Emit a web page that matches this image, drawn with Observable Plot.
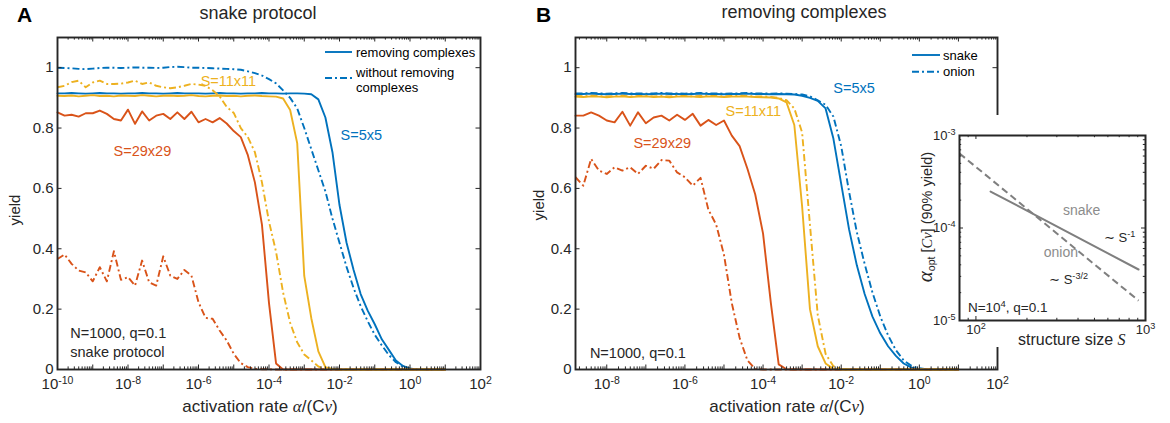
<!DOCTYPE html>
<html>
<head>
<meta charset="utf-8">
<script src="https://cdn.jsdelivr.net/npm/d3@7"></script>
<script src="https://cdn.jsdelivr.net/npm/@observablehq/plot@0.6"></script>
<style>
html,body{margin:0;padding:0;background:#fff;}
#root{position:relative;width:1170px;height:423px;overflow:hidden;background:#fff;}
#root > svg{position:absolute;top:0;}
</style>
</head>
<body>
<div id="root"></div>
<script>
// ---------- data ----------
// exponent of the activation rate alpha/(C nu) sampled in the simulations
const logAlpha = [-10,-9.8,-9.6,-9.4,-9.2,-9,-8.8,-8.6,-8.4,-8.2,-8,-7.8,-7.6,-7.4,-7.2,-7,-6.8,-6.6,-6.4,-6.2,-6,-5.8,-5.6,-5.4,-5.2,-5,-4.8,-4.6,-4.4,-4.2,-4,-3.8,-3.6,-3.4,-3.2,-3,-2.8,-2.6,-2.4,-2.2,-2,-1.8,-1.6,-1.4,-1.2,-1,-0.8,-0.6,-0.4,-0.2,0,0.2,0.4,0.6,0.8,1];
// panel B starts at 10^-8.8
const logAlphaB = [-8.8,-8.6,-8.4,-8.2,-8,-7.8,-7.6,-7.4,-7.2,-7,-6.8,-6.6,-6.4,-6.2,-6,-5.8,-5.6,-5.4,-5.2,-5,-4.8,-4.6,-4.4,-4.2,-4,-3.8,-3.6,-3.4,-3.2,-3,-2.8,-2.6,-2.4,-2.2,-2,-1.8,-1.6,-1.4,-1.2,-1,-0.8,-0.6,-0.4,-0.2,0,0.2,0.4,0.6,0.8,1];

// Panel A: snake protocol, yield (removing complexes / without removing complexes)
const aS5Removing = [0.915,0.915,0.916,0.915,0.914,0.915,0.916,0.915,0.915,0.914,0.915,0.915,0.916,0.915,0.915,0.914,0.915,0.916,0.915,0.915,0.915,0.914,0.915,0.916,0.915,0.915,0.914,0.915,0.915,0.916,0.915,0.915,0.914,0.915,0.915,0.914,0.912,0.895,0.835,0.72,0.545,0.42,0.33,0.25,0.195,0.15,0.10,0.065,0.03,0.012,0.003,0.001,0,0,0,0];
const aS5Without = [1.0,0.999,0.998,0.996,0.995,0.997,0.999,1.0,1.0,0.999,1.0,1.001,1.0,1.0,0.999,1.0,1.002,1.003,1.002,1.0,1.0,0.999,0.998,0.997,0.996,0.995,0.993,0.988,0.982,0.974,0.962,0.948,0.925,0.90,0.865,0.80,0.73,0.66,0.59,0.50,0.42,0.34,0.27,0.21,0.16,0.115,0.08,0.048,0.024,0.01,0.003,0.001,0,0,0,0];
const aS11Removing = [0.907,0.906,0.908,0.905,0.907,0.909,0.906,0.907,0.905,0.908,0.907,0.906,0.909,0.907,0.905,0.907,0.908,0.906,0.907,0.909,0.906,0.905,0.907,0.908,0.906,0.907,0.905,0.907,0.908,0.906,0.905,0.904,0.898,0.86,0.75,0.31,0.17,0.06,0.008,0.002,0,0,0,0,0,0,0,0,0,0,0,0,0,0,0,0];
const aS11Without = [0.935,0.940,0.952,0.957,0.935,0.951,0.957,0.946,0.946,0.947,0.951,0.957,0.946,0.951,0.940,0.935,0.932,0.935,0.940,0.946,0.944,0.940,0.925,0.905,0.87,0.85,0.80,0.77,0.72,0.62,0.49,0.39,0.255,0.155,0.09,0.05,0.03,0.01,0.003,0.001,0,0,0,0,0,0,0,0,0,0,0,0,0,0,0,0];
const aS29Removing = [0.852,0.841,0.844,0.838,0.849,0.849,0.858,0.847,0.830,0.825,0.861,0.814,0.855,0.825,0.841,0.847,0.830,0.852,0.830,0.854,0.819,0.830,0.819,0.833,0.815,0.79,0.77,0.71,0.62,0.48,0.22,0.02,0,0,0,0,0,0,0,0,0,0,0,0,0,0,0,0,0,0,0,0,0,0,0,0];
const aS29Without = [0.366,0.381,0.35,0.328,0.322,0.292,0.339,0.292,0.392,0.297,0.306,0.278,0.361,0.289,0.278,0.375,0.311,0.30,0.33,0.311,0.223,0.171,0.168,0.129,0.096,0.052,0.021,0.008,0.002,0.001,0.001,0,0,0,0,0,0,0,0,0,0,0,0,0,0,0,0,0,0,0,0,0,0,0,0,0];

// Panel B: removing complexes, yield (snake / onion protocol)
const bS5Snake = [0.913,0.913,0.914,0.913,0.912,0.913,0.914,0.913,0.913,0.912,0.913,0.914,0.913,0.913,0.912,0.913,0.914,0.913,0.913,0.912,0.913,0.913,0.914,0.913,0.913,0.912,0.913,0.912,0.911,0.907,0.90,0.89,0.865,0.765,0.615,0.465,0.345,0.25,0.175,0.12,0.077,0.045,0.02,0.006,0.001,0,0,0,0,0];
const bS5Onion = [0.915,0.915,0.916,0.915,0.914,0.915,0.916,0.915,0.915,0.914,0.915,0.916,0.915,0.915,0.914,0.915,0.916,0.915,0.915,0.914,0.915,0.915,0.916,0.915,0.915,0.914,0.915,0.914,0.913,0.911,0.905,0.892,0.877,0.838,0.74,0.59,0.455,0.35,0.255,0.176,0.113,0.064,0.03,0.012,0.004,0.001,0,0,0,0];
const bS11Snake = [0.904,0.903,0.905,0.904,0.902,0.904,0.905,0.903,0.904,0.905,0.903,0.904,0.902,0.904,0.905,0.904,0.903,0.905,0.904,0.903,0.904,0.905,0.904,0.903,0.902,0.901,0.898,0.885,0.81,0.54,0.20,0.077,0.02,0.002,0,0,0,0,0,0,0,0,0,0,0,0,0,0,0,0];
const bS11Onion = [0.906,0.905,0.907,0.906,0.905,0.906,0.907,0.905,0.906,0.907,0.905,0.906,0.905,0.907,0.906,0.905,0.906,0.907,0.906,0.905,0.906,0.907,0.906,0.905,0.905,0.903,0.900,0.892,0.865,0.785,0.48,0.18,0.052,0.011,0.002,0,0,0,0,0,0,0,0,0,0,0,0,0,0,0];
const bS29Snake = [0.841,0.841,0.852,0.841,0.825,0.819,0.854,0.808,0.852,0.816,0.835,0.841,0.825,0.844,0.827,0.847,0.808,0.827,0.81,0.825,0.775,0.74,0.665,0.58,0.45,0.22,0.017,0.001,0,0,0,0,0,0,0,0,0,0,0,0,0,0,0,0,0,0,0,0,0,0];
const bS29Onion = [0.637,0.609,0.698,0.659,0.648,0.67,0.659,0.67,0.648,0.675,0.665,0.694,0.692,0.653,0.637,0.609,0.635,0.53,0.48,0.38,0.22,0.105,0.03,0.002,0,0,0,0,0,0,0,0,0,0,0,0,0,0,0,0,0,0,0,0,0,0,0,0,0,0];

// Inset: optimal activation rate (90% yield) vs structure size S, N=10^4
const insetSnakeS = [122, 910];
const insetSnakeAlpha = [2.48e-4, 3.56e-5];
const insetOnionS = [80, 910];
const insetOnionAlpha = [6.4e-4, 1.64e-5];

// tick values
const yTicks = [0, 0.2, 0.4, 0.6, 0.8, 1];
const xLabelTicksA = [1e-10, 1e-8, 1e-6, 1e-4, 1e-2, 1, 1e2];
const xLabelTicksB = [1e-8, 1e-6, 1e-4, 1e-2, 1, 1e2];
const insetXTicks = [1e2, 1e3];
const insetYTicks = [1e-5, 1e-4, 1e-3];

// ---------- style ----------
const C5 = "#0072BD", C11 = "#EDB120", C29 = "#D95319";
const AX = "#262626";
const FONT = "'Liberation Sans', Arial, Helvetica, sans-serif";
const SERIF = "'Liberation Serif','DejaVu Serif',serif";
const DASHDOT = "7,3,2,3";

function decadeTicks(eMin, eMax) { const r = []; for (let e = eMin; e <= eMax; e++) r.push(Math.pow(10, e)); return r; }
function subTicks(eMin, eMax, lo, hi) {
  const r = [];
  for (let e = eMin; e <= eMax; e++) for (let k = 2; k <= 9; k++) { const v = k * Math.pow(10, e); if (v > lo && v < hi) r.push(v); }
  return r;
}

function lineMark(xs, ys, color, dashed, width = 1.9) {
  const rows = xs.map((x, i) => ({x, y: ys[i]}));
  const o = {x: "x", y: "y", stroke: color, strokeWidth: width, strokeLinejoin: "round"};
  if (dashed) { o.strokeDasharray = dashed; o.strokeLinecap = "butt"; }
  return Plot.line(rows, o);
}

function boxTicks(xMajor, xMinor, yMajor, yMinor, innerW, innerH, major, minor) {
  const s = {stroke: AX, strokeWidth: 1};
  return [
    Plot.tickX(xMajor, {x: d => d, insetTop: innerH - major, ...s}),
    Plot.tickX(xMajor, {x: d => d, insetBottom: innerH - major, ...s}),
    Plot.tickX(xMinor, {x: d => d, insetTop: innerH - minor, ...s}),
    Plot.tickX(xMinor, {x: d => d, insetBottom: innerH - minor, ...s}),
    Plot.tickY(yMajor, {y: d => d, insetRight: innerW - major, ...s}),
    Plot.tickY(yMajor, {y: d => d, insetLeft: innerW - major, ...s}),
    Plot.tickY(yMinor, {y: d => d, insetRight: innerW - minor, ...s}),
    Plot.tickY(yMinor, {y: d => d, insetLeft: innerW - minor, ...s})
  ];
}

const supFmt = d => `10^{${Math.round(Math.log10(d))}}`;

function panel({xs, series, xDomain, labelTicks, eMin, eMax, width, ml, mr, annotations}) {
  const H = 423, mt = 37, mb = 54;
  const innerW = width - ml - mr, innerH = H - mt - mb;
  const lo = xDomain[0], hi = xDomain[1];
  return Plot.plot({
    width, height: H, marginLeft: ml, marginRight: mr, marginTop: mt, marginBottom: mb,
    style: {fontFamily: FONT, fontSize: "15px", color: AX, background: "transparent", overflow: "visible"},
    x: {type: "log", domain: xDomain},
    y: {domain: [0, 1.1]},
    marks: [
      ...series.map(s => lineMark(xs, s.values, s.color, s.dashed ? DASHDOT : null)),
      ...boxTicks(decadeTicks(eMin, eMax).filter(v => v > lo && v < hi), subTicks(eMin - 1, eMax, lo, hi), yTicks, [], innerW, innerH, 4.5, 2.6),
      Plot.axisX(labelTicks, {tickSize: 0, tickPadding: 9, tickFormat: supFmt, label: null}),
      Plot.axisY(yTicks, {tickSize: 0, tickPadding: 4, tickFormat: d => String(+d.toFixed(1)), label: null}),
      Plot.frame({stroke: AX, strokeWidth: 1.9}),
      ...annotations
    ]
  });
}

const ann = (text, x, y, color, size = 14.5) => Plot.text([text], {x: () => x, y: () => y, text: d => d, fill: color, fontSize: size, textAnchor: "start"});

const xsA = logAlpha.map(e => Math.pow(10, e));
const xsB = logAlphaB.map(e => Math.pow(10, e));

const svgA = panel({
  xs: xsA, xDomain: [1e-10, 1e2], labelTicks: xLabelTicksA, eMin: -10, eMax: 2, width: 500, ml: 57, mr: 20,
  series: [
    {values: aS5Removing, color: C5}, {values: aS5Without, color: C5, dashed: true},
    {values: aS29Removing, color: C29}, {values: aS29Without, color: C29, dashed: true},
    {values: aS11Removing, color: C11}, {values: aS11Without, color: C11, dashed: true}
  ],
  annotations: [
    ann("S=11x11", 1.15e-6, 0.954, C11),
    ann("S=5x5", 1.07e-2, 0.775, C5),
    ann("S=29x29", 3.9e-9, 0.722, C29),
    ann("N=1000, q=0.1", 2.3e-10, 0.119, AX),
    ann("snake protocol", 2.3e-10, 0.056, AX)
  ]
});

const svgB = panel({
  xs: xsB, xDomain: [Math.pow(10, -8.8), 1e2], labelTicks: xLabelTicksB, eMin: -8, eMax: 2, width: 500, ml: 57, mr: 21,
  series: [
    {values: bS5Snake, color: C5}, {values: bS5Onion, color: C5, dashed: true},
    {values: bS29Snake, color: C29}, {values: bS29Onion, color: C29, dashed: true},
    {values: bS11Snake, color: C11}, {values: bS11Onion, color: C11, dashed: true}
  ],
  annotations: [
    ann("S=5x5", 6.3e-3, 0.93, C5),
    ann("S=11x11", 1.1e-5, 0.854, C11),
    ann("S=29x29", 4.8e-8, 0.748, C29),
    ann("N=1000, q=0.1", 3.7e-9, 0.053, AX)
  ]
});

const GRAY = "#7f7f7f";
const insetSvg = Plot.plot({
  width: 260, height: 232, marginLeft: 54, marginRight: 20, marginTop: 20, marginBottom: 27,
  style: {fontFamily: FONT, fontSize: "13px", color: AX, background: "#fff", overflow: "visible"},
  x: {type: "log", domain: [80, 1000]},
  y: {type: "log", domain: [1e-5, 1e-3]},
  marks: [
    lineMark(insetOnionS, insetOnionAlpha, GRAY, "7,4", 2),
    lineMark(insetSnakeS, insetSnakeAlpha, GRAY, null, 2),
    ...boxTicks(insetXTicks.filter(v => v < 1000), subTicks(1, 2, 80, 1000), insetYTicks.filter(v => v > 1e-5 && v < 1e-3), subTicks(-5, -4, 1e-5, 1e-3), 186, 185, 4, 2.2),
    Plot.axisX(insetXTicks, {tickSize: 0, tickPadding: 4, tickFormat: supFmt, label: null}),
    Plot.axisY(insetYTicks, {tickSize: 0, tickPadding: 4, tickFormat: supFmt, label: null}),
    Plot.frame({stroke: AX, strokeWidth: 2}),
    ann("snake", 326, 1.55e-4, "#8c8c8c", 14),
    ann("onion", 251, 5.43e-5, "#8c8c8c", 14),
    ann("∼ S^{-1}", 569, 7.88e-5, AX, 13),
    ann("∼ S^{-3/2}", 270, 2.77e-5, AX, 13),
    ann("N=10^{4}, q=0.1", 89.7, 1.38e-5, AX, 13.5)
  ]
});

// ---------- overlays (titles, axis labels, legends) ----------
const NS = "http://www.w3.org/2000/svg";
function overlay(html, left, top, w, h) {
  const s = document.createElementNS(NS, "svg");
  s.setAttribute("width", w); s.setAttribute("height", h);
  s.style.left = left + "px"; s.style.top = top + "px";
  s.style.fontFamily = FONT; s.style.fill = AX;
  s.innerHTML = html;
  return s;
}
const m = (t) => `<tspan font-family="${SERIF}" font-style="italic">${t}</tspan>`;
const legendLine = (x1, x2, y, dash) => `<line x1="${x1}" x2="${x2}" y1="${y}" y2="${y}" stroke="${C5}" stroke-width="1.9" ${dash ? `stroke-dasharray="${DASHDOT}"` : ""}/>`;

const overlay1 = overlay(`
  <text x="17" y="22" font-size="21" font-weight="bold" fill="#000">A</text>
  <text x="536" y="22" font-size="21" font-weight="bold" fill="#000">B</text>
  <text x="258" y="18.5" font-size="18" text-anchor="middle">snake protocol</text>
  <text x="804" y="18" font-size="18" text-anchor="middle">removing complexes</text>
  <text x="260" y="412" font-size="17" text-anchor="middle">activation rate ${m("α")}/(C${m("ν")})</text>
  <text x="787" y="412" font-size="17" text-anchor="middle">activation rate ${m("α")}/(C${m("ν")})</text>
  <text transform="translate(20,210) rotate(-90)" font-size="15" text-anchor="middle">yield</text>
  <text transform="translate(544,205) rotate(-90)" font-size="15" text-anchor="middle">yield</text>
  ${legendLine(325, 352, 52, false)}
  <text x="356" y="56.5" font-size="13" fill="#000">removing complexes</text>
  ${legendLine(325, 352, 78, true)}
  <text x="356" y="77.3" font-size="13" fill="#000">without removing</text>
  <text x="356" y="91.8" font-size="13" fill="#000">complexes</text>
  ${legendLine(912, 940, 55, false)}
  <text x="943" y="59.5" font-size="13" fill="#000">snake</text>
  ${legendLine(912, 940, 71.7, true)}
  <text x="943" y="76.2" font-size="13" fill="#000">onion</text>
`, 0, 0, 1170, 423);

const overlay2 = overlay(`
  <text transform="translate(932,217) rotate(-90)" font-size="14.5" text-anchor="middle"><tspan font-family="${SERIF}" font-style="italic" font-size="21">α</tspan><tspan font-size="10.5" dy="3">opt</tspan><tspan dy="-3"> [</tspan>${m("Cν")}<tspan>]  (90% yield)</tspan></text>
  <text x="1018" y="345" font-size="16">structure size ${m("S")}</text>
`, 0, 0, 1170, 423);

// ---------- assemble ----------
const root = document.getElementById("root");
svgA.style.left = "0px";
svgB.style.left = "518px";
insetSvg.style.left = "905px"; insetSvg.style.top = "115px";
root.append(svgA, svgB, overlay1, insetSvg, overlay2);

// superscripts: "10^{-4}" -> 10 with raised exponent
function applySup(svg) {
  svg.querySelectorAll("text").forEach(t => {
    const s = t.textContent;
    if (!s.includes("^{")) return;
    const fs = parseFloat(getComputedStyle(t).fontSize) || 14;
    while (t.firstChild) t.removeChild(t.firstChild);
    const parts = s.split(/\^\{([^}]*)\}/);
    let shifted = false;
    parts.forEach((p, i) => {
      if (!p) return;
      const ts = document.createElementNS(NS, "tspan");
      ts.textContent = p;
      if (i % 2 === 1) { ts.setAttribute("font-size", (fs * 0.7) + "px"); ts.setAttribute("dy", (-0.36 * fs) + "px"); shifted = true; }
      else if (shifted) { ts.setAttribute("dy", (0.36 * fs) + "px"); shifted = false; }
      t.appendChild(ts);
    });
  });
}
[svgA, svgB, insetSvg].forEach(applySup);
</script>
</body>
</html>
